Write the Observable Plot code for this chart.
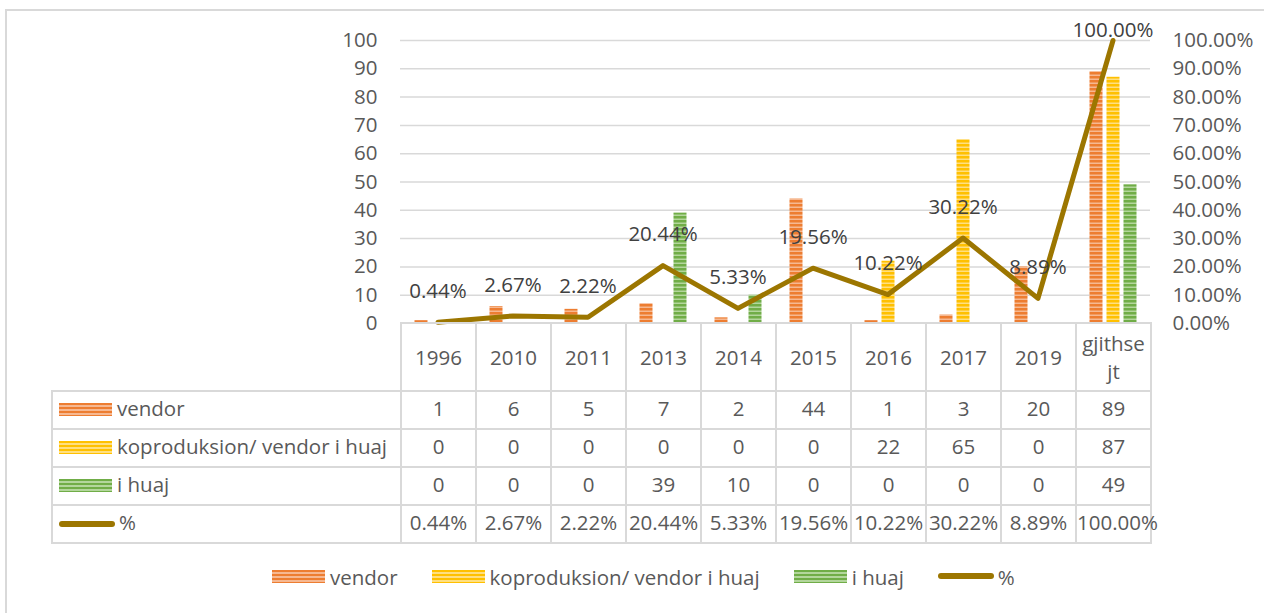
<!DOCTYPE html>
<html>
<head>
<meta charset="utf-8">
<script src="https://cdn.jsdelivr.net/npm/d3@7"></script>
<script src="https://cdn.jsdelivr.net/npm/@observablehq/plot@0.6"></script>
<style>
  html, body { margin: 0; padding: 0; background: #fff; }
  #wrap { position: relative; width: 1264px; height: 613px; overflow: hidden; font-family: "Open Sans", sans-serif; color: #595959; }
  #frame { position: absolute; left: 5px; top: 9px; width: 1400px; height: 800px; border-top: 2px solid #d9d9d9; border-left: 2px solid #d9d9d9; }
  #main { position: absolute; left: 0; top: 0; }
  #tbl { position: absolute; left: 51px; top: 322px; border-collapse: collapse; table-layout: fixed; font-size: 20.5px; color: #595959; }
  #tbl td { border: 2px solid #d9d9d9; padding: 0; text-align: center; white-space: nowrap; overflow: visible; box-sizing: border-box; }
  #tbl tr.hdr td { height: 68px; line-height: 28px; padding-bottom: 1px; }
  #tbl tr.row td { height: 38px; line-height: 30px; padding-bottom: 4px; }
  #tbl td.blank { border: none; }
  #tbl td.lab { text-align: left; padding-left: 6px; }
  .sw { display: inline-block; width: 53px; height: 13px; vertical-align: middle; margin-right: 5px; position: relative; top: -1px; }
  .swl { display: inline-block; width: 56px; height: 6px; border-radius: 3px; vertical-align: middle; margin-right: 4px; position: relative; top: -1px; }
  #legend { position: absolute; left: 272px; top: 563px; font-size: 20.5px; color: #595959; display: flex; align-items: center; white-space: nowrap; }
  #legend .item { display: flex; align-items: center; margin-right: 34px; }
  #legend .item:last-child { margin-right: 0; }
</style>
</head>
<body>
<div id="wrap">
  <div id="frame"></div>
  <div id="main"></div>
  <table id="tbl"></table>
  <div id="legend"></div>
</div>
<script>
// ---- data ----
const categories = ["1996", "2010", "2011", "2013", "2014", "2015", "2016", "2017", "2019", "gjithsejt"];
const categoryLabels = ["1996", "2010", "2011", "2013", "2014", "2015", "2016", "2017", "2019", "gjithse<br>jt"];
const vendor = [1, 6, 5, 7, 2, 44, 1, 3, 20, 89];
const koproduksion = [0, 0, 0, 0, 0, 0, 22, 65, 0, 87];
const iHuaj = [0, 0, 0, 39, 10, 0, 0, 0, 0, 49];
const percent = [0.44, 2.67, 2.22, 20.44, 5.33, 19.56, 10.22, 30.22, 8.89, 100.00];
const seriesNames = ["vendor", "koproduksion/ vendor i huaj", "i huaj", "%"];
const leftTicks = [0, 10, 20, 30, 40, 50, 60, 70, 80, 90, 100];

const colors = {
  vendor: ["#ED7D31", "#F6B891"],
  kopro: ["#FFC000", "#FFDF80"],
  huaj: ["#70AD47", "#B3D69C"],
  line: "#9C7600"
};

const rows = categories.map((c, i) => ({
  cat: c, vendor: vendor[i], kopro: koproduksion[i], huaj: iHuaj[i], pct: percent[i]
}));
const fmtPct = d => d.toFixed(2) + "%";

// ---- main chart ----
const plot = Plot.plot({
  width: 1264,
  height: 330,
  marginLeft: 400,
  marginRight: 114,
  marginTop: 40,
  marginBottom: 7,
  x: { domain: categories, padding: 0, axis: null },
  y: { domain: [0, 100], axis: null },
  style: { fontFamily: "Open Sans, sans-serif", fontSize: "20.5px", color: "#595959", background: "transparent", overflow: "visible" },
  marks: [
    Plot.ruleY(leftTicks.filter(d => d > 0), { stroke: "#d9d9d9", strokeWidth: 1.5 }),
    Plot.axisY({ anchor: "left", ticks: leftTicks, tickSize: 0, tickPadding: 23, fill: "#595959" }),
    Plot.axisY({ anchor: "right", ticks: leftTicks, tickSize: 0, tickPadding: 22, tickFormat: d => fmtPct(d), fill: "#595959" }),
    Plot.barY(rows, { x: "cat", y: "vendor", fill: "url(#p-vendor)", insetLeft: 14.5, insetRight: 47.5 }),
    Plot.barY(rows, { x: "cat", y: "kopro", fill: "url(#p-kopro)", insetLeft: 31.5, insetRight: 30.5 }),
    Plot.barY(rows, { x: "cat", y: "huaj", fill: "url(#p-huaj)", insetLeft: 48.5, insetRight: 13.5 }),
    Plot.line(rows, { x: "cat", y: "pct", stroke: colors.line, strokeWidth: 5, strokeLinejoin: "round", strokeLinecap: "round" }),
    Plot.text(rows.filter(d => d.pct < 100), { x: "cat", y: "pct", text: d => fmtPct(d.pct), dy: -31, fill: "#404040" }),
    Plot.text(rows.filter(d => d.pct >= 100), { x: "cat", y: "pct", text: d => fmtPct(d.pct), dy: -10, fill: "#404040" })
  ]
});

const ns = "http://www.w3.org/2000/svg";
const defs = document.createElementNS(ns, "defs");
function pat(id, c) {
  return `<pattern id="${id}" patternUnits="userSpaceOnUse" x="0" y="0" width="8" height="4">
    <rect width="8" height="4" fill="${c[0]}"/><rect y="2.5" width="8" height="1.5" fill="${c[1]}"/></pattern>`;
}
defs.innerHTML = pat("p-vendor", colors.vendor) + pat("p-kopro", colors.kopro) + pat("p-huaj", colors.huaj);
plot.prepend(defs);
document.getElementById("main").appendChild(plot);

// ---- data table ----
const stripe = c => `background: repeating-linear-gradient(to bottom, ${c[0]} 0px, ${c[0]} 2.5px, ${c[1]} 2.5px, ${c[1]} 4px);`;
const swatches = [
  `<span class="sw" style="${stripe(colors.vendor)}"></span>`,
  `<span class="sw" style="${stripe(colors.kopro)}"></span>`,
  `<span class="sw" style="${stripe(colors.huaj)}"></span>`,
  `<span class="swl" style="background:${colors.line}"></span>`
];
const tableSeries = [vendor, koproduksion, iHuaj, percent.map(fmtPct)];
let html = `<colgroup><col style="width:349px">${categories.map(() => '<col style="width:75px">').join("")}</colgroup>`;
html += `<tr class="hdr"><td class="blank"></td>${categoryLabels.map(l => `<td>${l}</td>`).join("")}</tr>`;
tableSeries.forEach((vals, si) => {
  html += `<tr class="row"><td class="lab">${swatches[si]}${seriesNames[si]}</td>${vals.map(v => `<td>${v}</td>`).join("")}</tr>`;
});
const tbl = document.getElementById("tbl");
tbl.innerHTML = html;
tbl.style.width = (349 + 75 * categories.length) + "px";

// ---- legend ----
document.getElementById("legend").innerHTML = seriesNames.map((n, i) =>
  `<span class="item">${swatches[i]}${n}</span>`).join("");
</script>
</body>
</html>
